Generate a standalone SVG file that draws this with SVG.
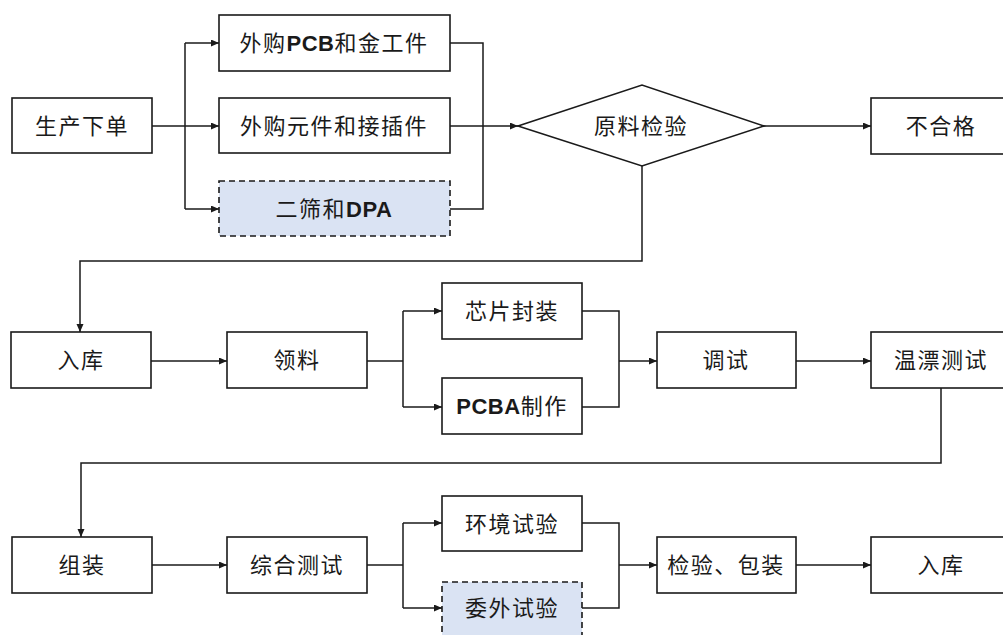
<svg xmlns="http://www.w3.org/2000/svg" width="1003" height="635" viewBox="0 0 1003 635">
<style>
.box{fill:#ffffff;stroke:#1a1a1a;stroke-width:1.6}
.dash{fill:#dae3f3;stroke:#1a1a1a;stroke-width:1.6;stroke-dasharray:6 4}
.lbl{font-family:"Liberation Serif","Noto Sans CJK SC",sans-serif;font-size:22px;fill:#1a1a1a;text-anchor:middle;letter-spacing:1.5px}
.b{font-family:"Liberation Sans",Arial,sans-serif;font-weight:bold;letter-spacing:0.5px}
.con path{fill:none;stroke:#1a1a1a;stroke-width:1.5}
.con path.a{marker-end:url(#arr)}
</style>
<defs>
<marker id="arr" markerUnits="userSpaceOnUse" markerWidth="9" markerHeight="8" refX="8" refY="3.5" orient="auto">
<path d="M0,0 L8,3.5 L0,7 z" fill="#1a1a1a"/>
</marker>
</defs>
<rect width="1003" height="635" fill="#ffffff"/>
<g class="con">
<path d="M185,43 V209"/>
<path class="a" d="M185,43 H219"/>
<path class="a" d="M152,126 H219"/>
<path class="a" d="M185,209 H219"/>
<path d="M450,43 H483 V209 H450"/>
<path class="a" d="M450,126 H518"/>
<path class="a" d="M764,126 H871"/>
<path class="a" d="M642,166 V261 H80 V332"/>
<path class="a" d="M151,361 H227"/>
<path d="M367,361 H403"/>
<path d="M403,311 V407"/>
<path class="a" d="M403,311 H442"/>
<path class="a" d="M403,407 H442"/>
<path d="M582,311 H619 V407 H582"/>
<path class="a" d="M619,361 H657"/>
<path class="a" d="M796,361 H871"/>
<path class="a" d="M941,388 V463 H81 V537"/>
<path class="a" d="M152,565 H227"/>
<path d="M367,565 H403"/>
<path d="M403,523 V608"/>
<path class="a" d="M403,523 H442"/>
<path class="a" d="M403,608 H442"/>
<path d="M582,523 H619 V608 H582"/>
<path class="a" d="M619,565 H657"/>
<path class="a" d="M796,565 H871"/>
</g>
<g id="n-order"><rect class="box" x="12" y="98" width="140" height="55"/><text class="lbl" x="82" y="134">生产下单</text></g>
<g id="n-pcb"><rect class="box" x="219" y="15" width="231" height="56"/><text class="lbl" x="334" y="51">外购<tspan class="b">PCB</tspan>和金工件</text></g>
<g id="n-parts"><rect class="box" x="219" y="98" width="231" height="55"/><text class="lbl" x="334" y="134">外购元件和接插件</text></g>
<g id="n-dpa"><rect class="dash" x="219" y="181" width="231" height="55"/><text class="lbl" x="334" y="217">二筛和<tspan class="b">DPA</tspan></text></g>
<g id="n-check"><polygon class="box" points="518,126 642,85 764,126 642,166"/><text class="lbl" x="641" y="134">原料检验</text></g>
<g id="n-fail"><rect class="box" x="871" y="98" width="140" height="56"/><text class="lbl" x="941" y="134">不合格</text></g>
<g id="n-store1"><rect class="box" x="11" y="332" width="140" height="56"/><text class="lbl" x="81" y="368">入库</text></g>
<g id="n-pick"><rect class="box" x="227" y="332" width="140" height="56"/><text class="lbl" x="297" y="368">领料</text></g>
<g id="n-chip"><rect class="box" x="442" y="283" width="140" height="56"/><text class="lbl" x="512" y="319">芯片封装</text></g>
<g id="n-pcba"><rect class="box" x="442" y="378" width="140" height="56"/><text class="lbl" x="512" y="414"><tspan class="b">PCBA</tspan>制作</text></g>
<g id="n-debug"><rect class="box" x="657" y="332" width="139" height="56"/><text class="lbl" x="726" y="368">调试</text></g>
<g id="n-drift"><rect class="box" x="871" y="332" width="140" height="56"/><text class="lbl" x="941" y="368">温漂测试</text></g>
<g id="n-assy"><rect class="box" x="12" y="537" width="140" height="56"/><text class="lbl" x="82" y="573">组装</text></g>
<g id="n-test"><rect class="box" x="227" y="537" width="140" height="56"/><text class="lbl" x="297" y="573">综合测试</text></g>
<g id="n-env"><rect class="box" x="442" y="496" width="140" height="55"/><text class="lbl" x="512" y="532">环境试验</text></g>
<g id="n-out"><rect class="dash" x="442" y="582" width="140" height="60"/><text class="lbl" x="512" y="616">委外试验</text></g>
<g id="n-pack"><rect class="box" x="657" y="537" width="139" height="56"/><text class="lbl" x="726" y="573">检验、包装</text></g>
<g id="n-store2"><rect class="box" x="871" y="537" width="140" height="56"/><text class="lbl" x="941" y="573">入库</text></g>
</svg>
